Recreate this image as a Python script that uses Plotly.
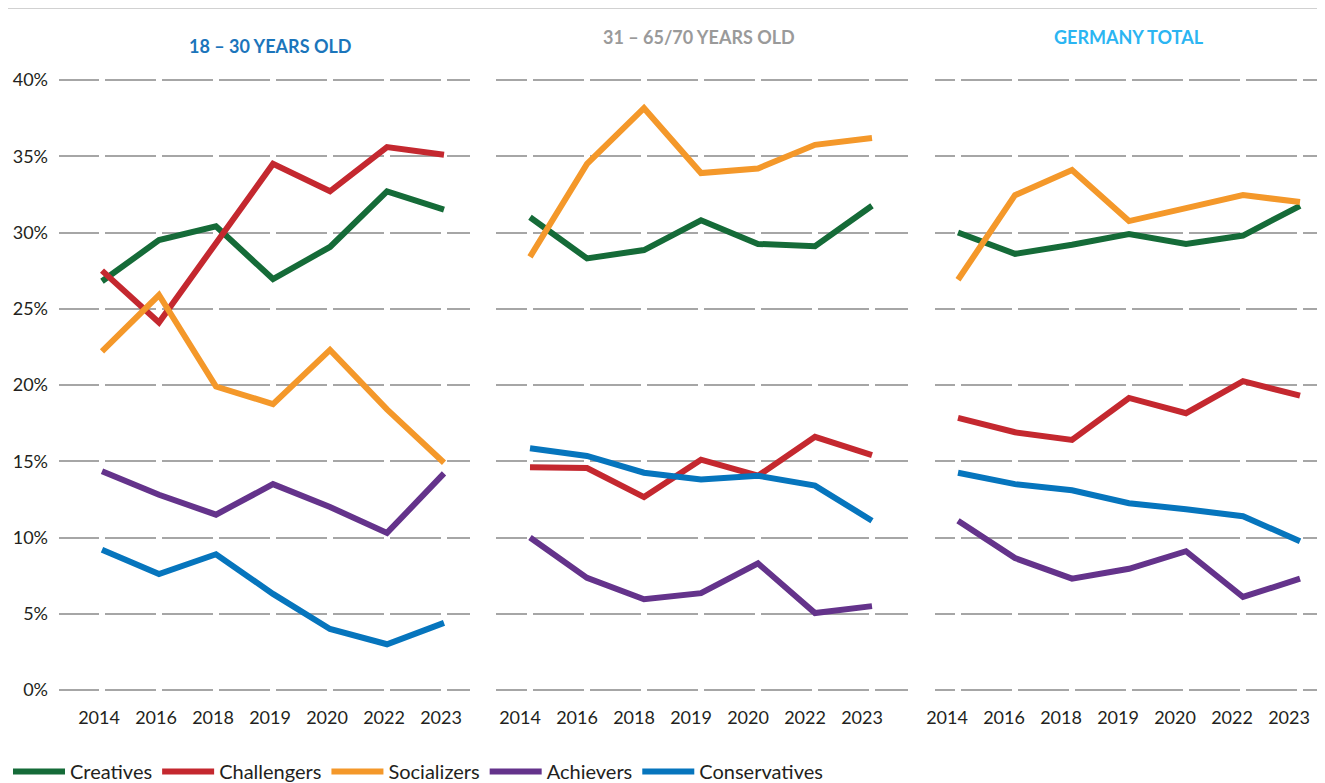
import plotly.graph_objects as go

years = ["2014", "2016", "2018", "2019", "2020", "2022", "2023"]
series_names = ["Creatives", "Challengers", "Socializers", "Achievers", "Conservatives"]
panel_titles = ["18 – 30 YEARS OLD", "31 – 65/70 YEARS OLD", "GERMANY TOTAL"]

# Panel 1: 18-30 years old
young_creatives     = [26.8, 29.5, 30.4, 26.95, 29.05, 32.7, 31.5]
young_challengers   = [27.5, 24.1, 29.3, 34.5, 32.7, 35.6, 35.1]
young_socializers   = [22.2, 25.9, 19.9, 18.75, 22.3, 18.4, 14.9]
young_achievers     = [14.35, 12.8, 11.5, 13.5, 12.0, 10.3, 14.2]
young_conservatives = [9.2, 7.6, 8.9, 6.3, 4.0, 3.0, 4.4]

# Panel 2: 31-65/70 years old
mid_creatives     = [31.0, 28.3, 28.85, 30.8, 29.25, 29.1, 31.75]
mid_challengers   = [14.6, 14.55, 12.65, 15.1, 14.05, 16.6, 15.4]
mid_socializers   = [28.4, 34.5, 38.15, 33.9, 34.2, 35.75, 36.2]
mid_achievers     = [10.0, 7.35, 5.95, 6.35, 8.3, 5.05, 5.5]
mid_conservatives = [15.85, 15.35, 14.25, 13.8, 14.05, 13.4, 11.1]

# Panel 3: Germany total
tot_creatives     = [30.0, 28.6, 29.2, 29.9, 29.25, 29.8, 31.75]
tot_challengers   = [17.85, 16.9, 16.4, 19.15, 18.15, 20.25, 19.3]
tot_socializers   = [26.9, 32.45, 34.1, 30.75, 31.6, 32.45, 32.0]
tot_achievers     = [11.1, 8.65, 7.3, 7.95, 9.1, 6.1, 7.3]
tot_conservatives = [14.25, 13.5, 13.1, 12.25, 11.85, 11.4, 9.75]

y_tickvals = [0, 5, 10, 15, 20, 25, 30, 35, 40]
y_ticktext = ["0%", "5%", "10%", "15%", "20%", "25%", "30%", "35%", "40%"]

panels = [
    [young_creatives, young_challengers, young_socializers, young_achievers, young_conservatives],
    [mid_creatives, mid_challengers, mid_socializers, mid_achievers, mid_conservatives],
    [tot_creatives, tot_challengers, tot_socializers, tot_achievers, tot_conservatives],
]

colors = ["#156B38", "#C4282F", "#F4982A", "#64338B", "#0675BD"]
title_colors = ["#1B75BB", "#9A9A9A", "#2BB5F2"]

OFF = 8  # page body margin
W, H = 1325 - OFF, 783
FONT = "Lato, 'Noto Sans', sans-serif"
TXT = "#231F20"

def fx(px):
    return (px - OFF) / W

def fy(py):
    return (H - (py - OFF)) / H

# pixel layout (reference screen coords)
x_domains_px = [(59, 470), (496, 908), (935, 1325)]
first_cat_px = [102, 530, 958]
label_shift = [-3, -10, -11]
step = 57.0
y_px_0, y_px_40 = 690, 80
ppu = (y_px_0 - y_px_40) / 40.0
yr = [-1, 41]
y_dom = [fy(y_px_0 + (0 - yr[0]) * ppu), fy(y_px_40 - (yr[1] - 40) * ppu)]

fig = go.Figure()

for p, data in enumerate(panels):
    xa = "x" if p == 0 else f"x{p+1}"
    ya = "y" if p == 0 else f"y{p+1}"
    for i, vals in enumerate(data):
        fig.add_trace(go.Scatter(
            x=years, y=vals, mode="lines", name=series_names[i],
            line=dict(color=colors[i], width=6),
            xaxis=xa, yaxis=ya, showlegend=(p == 0), legendgroup=series_names[i],
            hoverinfo="skip",
        ))

layout = dict(
    width=W, height=H,
    margin=dict(l=0, r=0, t=0, b=0),
    paper_bgcolor="white", plot_bgcolor="white",
    font=dict(family=FONT, size=18, color=TXT),
    showlegend=True,
    legend=dict(orientation="h", x=0.0, xanchor="left", y=0.0, yanchor="bottom",
                font=dict(family=FONT, size=20, color=TXT), itemwidth=52,
                bgcolor="rgba(0,0,0,0)", traceorder="normal"),
)

for p in range(3):
    x0, x1 = x_domains_px[p]
    c0 = first_cat_px[p]
    r0 = -(c0 - x0) / step
    r1 = 6 + (x1 - (c0 + 6 * step)) / step
    first_dash = max(1, round(c0 - x0 - 3))
    dash = ",".join([f"{first_dash}px", "6px"] + ["51px", "6px"] * 8)
    xkey = "xaxis" if p == 0 else f"xaxis{p+1}"
    ykey = "yaxis" if p == 0 else f"yaxis{p+1}"
    layout[xkey] = dict(
        domain=[fx(x0), min(1.0, fx(x1))], type="category", range=[r0, r1],
        showgrid=False, zeroline=False, showline=False, ticks="",
        tickfont=dict(family=FONT, size=18, color=TXT), ticklabelstandoff=0,
        ticklabelshift=label_shift[p],
        anchor="y" if p == 0 else f"y{p+1}", automargin=False,
    )
    layout[ykey] = dict(
        domain=y_dom, range=yr, tickvals=y_tickvals, ticktext=y_ticktext,
        showgrid=True, gridcolor="#A6A6A6", gridwidth=2, griddash=dash,
        zeroline=False, showline=False, ticks="",
        showticklabels=(p == 0), ticklabelstandoff=10,
        tickfont=dict(family=FONT, size=18, color=TXT),
        anchor="x" if p == 0 else f"x{p+1}", automargin=False,
    )

fig.update_layout(**layout)

# top rule
fig.add_shape(type="line", xref="paper", yref="paper", x0=0, x1=1.0,
              y0=fy(7), y1=fy(7), line=dict(color="#A3A3A3", width=3))

title_pos = [(270, 46), (699, 37), (1129, 37)]
for p in range(3):
    cx, cy = title_pos[p]
    fig.add_annotation(text=f"<b>{panel_titles[p]}</b>", xref="paper", yref="paper",
                       x=fx(cx), y=fy(cy), xanchor="center", yanchor="middle",
                       showarrow=False, font=dict(family=FONT, size=18, color=title_colors[p]))

fig.write_html("out.html")
